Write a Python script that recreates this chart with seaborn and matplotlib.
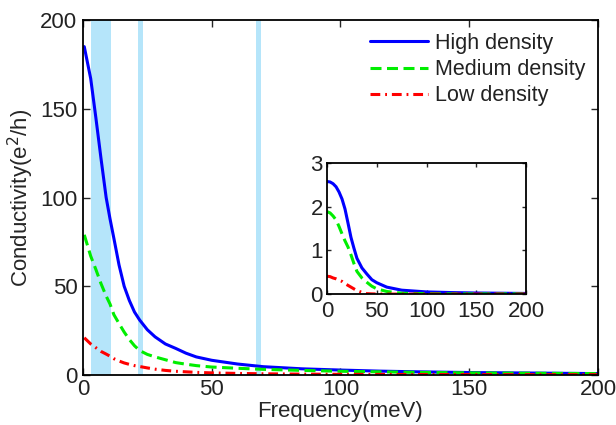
import numpy as np
import pandas as pd
import seaborn as sns
import matplotlib
matplotlib.use('Agg')
import matplotlib.pyplot as plt

# main panel values
freq = [0.5, 3, 5, 7, 9, 10.5, 12, 14, 16, 18, 20, 22, 25, 28, 32, 36, 40, 44, 50,
        60, 70, 85, 100, 115, 130, 150, 175, 200]
high = [185, 167, 145, 122, 100, 88, 77, 62, 50, 42, 35.5, 31, 25.5, 21.5, 17.5, 15, 12.3, 10.2, 8.3,
        6.2, 4.7, 3.5, 2.8, 2.2, 1.8, 1.4, 1.1, 0.8]
medium = [79, 67, 59.5, 51.5, 44.5, 40, 34, 29, 24.2, 20, 16.5, 13.8, 11.6, 10.2, 8.6, 7, 6.1, 5.3, 4.5,
          3.8, 3.2, 2.6, 2.1, 1.8, 1.5, 1.2, 1.0, 0.8]
low = [21, 17.5, 15.4, 13.3, 11.8, 10.6, 9.2, 7.9, 6.8, 6, 5.3, 4.8, 4, 3.3, 2.6, 2.1, 1.8, 1.5, 1.2,
       0.9, 0.7, 0.5, 0.4, 0.35, 0.3, 0.25, 0.2, 0.2]

# inset values
freq_in = [0, 3, 6, 9, 12, 15, 18, 21, 24, 27, 30, 35, 40, 45, 50, 60, 75, 100, 125, 150, 175, 200]
high_in = [2.58, 2.57, 2.53, 2.46, 2.34, 2.18, 1.95, 1.63, 1.3, 1.05, 0.82, 0.6, 0.46, 0.33, 0.26,
           0.16, 0.09, 0.05, 0.035, 0.025, 0.02, 0.015]
medium_in = [1.89, 1.86, 1.79, 1.70, 1.55, 1.38, 1.22, 1.08, 0.9, 0.7, 0.52, 0.37, 0.27, 0.18, 0.12,
             0.06, 0.02, 0.01, 0.005, 0.005, 0.005, 0.005]
low_in = [0.41, 0.40, 0.37, 0.35, 0.32, 0.29, 0.24, 0.2, 0.16, 0.12, 0.08, 0.04, 0.01, 0.005, 0.003,
          0, 0, 0, 0, 0, 0, 0]

# shaded frequency bands
bands = [(3.1, 10.9), (21.4, 23.3), (67.2, 69.1)]

labels = ['High density', 'Medium density', 'Low density']
colors = ['#0000ff', '#00ee00', '#ff0000']
styles = ['-', (0, (3.6, 1.8)), (0, (3.2, 1.6, 0.6, 1.6))]

sns.set_style('ticks')
plt.rcParams['font.family'] = ['Liberation Sans', 'DejaVu Sans']
plt.rcParams['xtick.direction'] = 'in'
plt.rcParams['ytick.direction'] = 'in'
plt.rcParams['xtick.top'] = True
plt.rcParams['ytick.right'] = True
plt.rcParams['axes.edgecolor'] = 'black'
plt.rcParams['axes.linewidth'] = 1.3
plt.rcParams['text.color'] = '#222222'
plt.rcParams['xtick.labelcolor'] = '#222222'
plt.rcParams['ytick.labelcolor'] = '#222222'

fig = plt.figure(figsize=(6.16, 4.25), dpi=100)
ax = fig.add_axes([0.1347, 0.1176, 0.8361, 0.8353])

for lo, hi in bands:
    ax.axvspan(lo, hi, color='#b5e5fa', lw=0, zorder=0)

main = pd.DataFrame({'freq': freq, 'High density': high, 'Medium density': medium, 'Low density': low})
for lab, c, ls in zip(labels, colors, styles):
    sns.lineplot(data=main, x='freq', y=lab, ax=ax, color=c, linestyle=ls, lw=2.2, label=lab)

ax.set_xlim(0, 200)
ax.set_ylim(0, 200)
ax.set_xticks([0, 50, 100, 150, 200])
ax.set_yticks([0, 50, 100, 150, 200])
ax.tick_params(labelsize=16, length=5, width=1)
ax.tick_params(axis='y', pad=4)
ax.tick_params(axis='x', pad=3)
ax.set_xlabel('Frequency(meV)', fontsize=16, labelpad=0.5)
ax.set_ylabel('Conductivity(e$^2$/h)', fontsize=16, labelpad=3)
ax.legend(loc='upper right', frameon=False, fontsize=15.5, handlelength=2.7,
          handletextpad=0.3, labelspacing=0.24, borderaxespad=0.2)

ins = fig.add_axes([0.531, 0.308, 0.323, 0.308])
inset = pd.DataFrame({'freq': freq_in, 'High density': high_in, 'Medium density': medium_in, 'Low density': low_in})
for lab, c, ls in zip(labels, colors, styles):
    sns.lineplot(data=inset, x='freq', y=lab, ax=ins, color=c, linestyle=ls, lw=2.2)
ins.set_xlim(0, 200)
ins.set_ylim(0, 3)
ins.set_xticks([0, 50, 100, 150, 200])
ins.set_yticks([0, 1, 2, 3])
ins.tick_params(labelsize=16, length=3, width=1, pad=3)
ins.tick_params(axis='x', pad=5)
ins.set_xlabel('')
ins.set_ylabel('')

fig.savefig('out.png', dpi=100)
